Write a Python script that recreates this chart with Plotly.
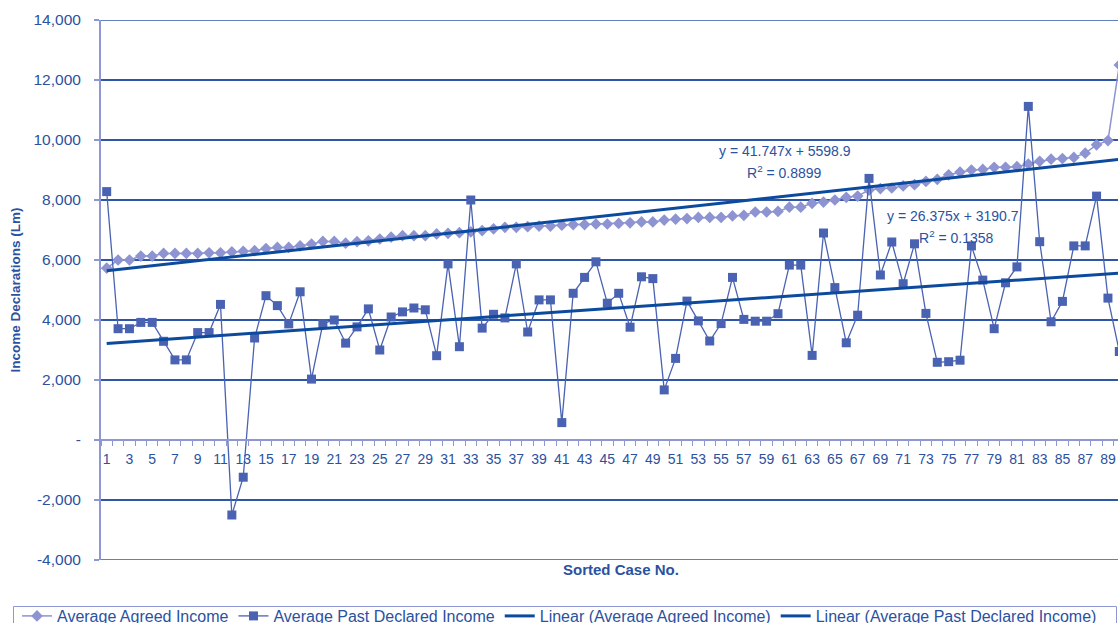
import plotly.graph_objects as go

# Sorted case numbers
case_no = list(range(1, 91))

# Average agreed income per case (Lm)
agreed_income = [
    5730, 6000, 6000, 6130, 6130, 6220, 6220, 6220, 6220, 6240,
    6240, 6270, 6290, 6310, 6380, 6420, 6420, 6470, 6530, 6620,
    6620, 6560, 6610, 6640, 6700, 6760, 6810, 6810, 6810, 6870,
    6890, 6910, 6940, 6980, 7040, 7090, 7090, 7110, 7130, 7130,
    7160, 7180, 7180, 7200, 7200, 7220, 7240, 7270, 7270, 7330,
    7360, 7380, 7420, 7420, 7420, 7470, 7490, 7600, 7600, 7620,
    7760, 7760, 7890, 7930, 8000, 8090, 8130, 8330, 8380, 8400,
    8470, 8510, 8620, 8690, 8840, 8930, 9000, 9020, 9090, 9090,
    9110, 9200, 9290, 9360, 9380, 9420, 9560, 9840, 9980, 12500,
]

# Average past declared income per case (Lm)
declared_income = [
    8280, 3710, 3710, 3920, 3920, 3290, 2670, 2670, 3580, 3580,
    4520, -2500, -1240, 3400, 4810, 4480, 3870, 4940, 2030, 3880,
    4000, 3230, 3770, 4370, 3000, 4100, 4270, 4400, 4340, 2810,
    5870, 3110, 8000, 3730, 4190, 4070, 5870, 3600, 4670, 4670,
    580, 4890, 5420, 5940, 4560, 4890, 3760, 5440, 5380, 1670,
    2720, 4630, 3970, 3300, 3880, 5420, 4020, 3960, 3960, 4210,
    5830, 5830, 2820, 6900, 5080, 3240, 4160, 8720, 5500, 6600,
    5210, 6540, 4220, 2590, 2610, 2660, 6470, 5330, 3710, 5240,
    5770, 11120, 6610, 3940, 4620, 6470, 6470, 8130, 4730, 2950,
]

# Fitted linear trends (slope, intercept, R squared)
agreed_fit = (41.747, 5598.9, 0.8899)
declared_fit = (26.375, 3190.7, 0.1358)

# Axis ticks
x_tick_vals = list(range(1, 90, 2))
y_tick_vals = [-4000, -2000, 0, 2000, 4000, 6000, 8000, 10000, 12000, 14000]
y_tick_text = ["-4,000", "-2,000", "-", "2,000", "4,000", "6,000",
               "8,000", "10,000", "12,000", "14,000"]

TEXT = "#2b51a1"
AXIS = "#8e97d2"
GRID = "#2f55a6"
AGREED = "#8d94d1"
DECLARED = "#4a62b2"
TREND = "#0c4a9e"
FONT = "Liberation Sans, Arial, sans-serif"

agreed_trend = [agreed_fit[0] * x + agreed_fit[1] for x in case_no]
declared_trend = [declared_fit[0] * x + declared_fit[1] for x in case_no]

fig = go.Figure()
fig.add_trace(go.Scatter(
    x=case_no, y=agreed_income, mode="lines+markers",
    name="Average Agreed Income",
    line=dict(color=AGREED, width=1.5),
    marker=dict(symbol="diamond", size=9, color=AGREED),
))
fig.add_trace(go.Scatter(
    x=case_no, y=declared_income, mode="lines+markers",
    name="Average Past Declared Income",
    line=dict(color=DECLARED, width=1.3),
    marker=dict(symbol="square", size=9, color=DECLARED),
))
fig.add_trace(go.Scatter(
    x=case_no, y=agreed_trend, mode="lines",
    name="Linear (Average Agreed Income)",
    line=dict(color=TREND, width=3),
))
fig.add_trace(go.Scatter(
    x=case_no, y=declared_trend, mode="lines",
    name="Linear (Average Past Declared Income)",
    line=dict(color=TREND, width=3),
))

# Plot-area geometry in pixels
plot_l, plot_t, plot_w, plot_h = 101, 20, 1017, 540
x_spacing = 11.378
x_max = 0.5 + plot_w / x_spacing


def px_x(px):
    return (px - plot_l) / plot_w


def px_y(py):
    return (plot_t + plot_h - py) / plot_h


# Horizontal rules at the outer ends of the value axis
for edge in (y_tick_vals[0], y_tick_vals[-1]):
    fig.add_shape(type="line", xref="paper", yref="y", x0=0, x1=1,
                  y0=edge, y1=edge, line=dict(color=GRID, width=1.5),
                  layer="below")

eq_font = dict(family=FONT, size=14, color=TEXT)
fig.add_annotation(x=60.6, y=9640, xref="x", yref="y", showarrow=False,
                   text=f"y = {agreed_fit[0]}x + {agreed_fit[1]}", font=eq_font)
fig.add_annotation(x=60.6, y=8940, xref="x", yref="y", showarrow=False,
                   text=f"R<sup>2</sup> = {agreed_fit[2]:.4f}", font=eq_font)
fig.add_annotation(x=75.4, y=7470, xref="x", yref="y", showarrow=False,
                   text=f"y = {declared_fit[0]}x + {declared_fit[1]}", font=eq_font)
fig.add_annotation(x=75.7, y=6780, xref="x", yref="y", showarrow=False,
                   text=f"R<sup>2</sup> = {declared_fit[2]:.4f}", font=eq_font)

fig.add_annotation(x=px_x(621), y=px_y(580),
                   xref="paper", yref="paper", showarrow=False,
                   text="<b>Sorted Case No.</b>",
                   font=dict(family=FONT, size=15, color=TEXT))

# Frame round the legend
fig.add_shape(type="rect", xref="paper", yref="paper",
              x0=px_x(13.5), x1=px_x(1116.5), y0=px_y(640), y1=px_y(606.5),
              line=dict(color=AXIS, width=1), fillcolor="rgba(0,0,0,0)",
              layer="above")

fig.update_layout(
    width=1118, height=623,
    margin=dict(l=plot_l, r=0, t=plot_t, b=623 - plot_t - plot_h, autoexpand=False),
    paper_bgcolor="white", plot_bgcolor="white",
    font=dict(family=FONT, color=TEXT),
    showlegend=True,
    legend=dict(
        orientation="h", x=px_x(17), y=px_y(599),
        xanchor="left", yanchor="top",
        borderwidth=0, bgcolor="rgba(0,0,0,0)",
        font=dict(family=FONT, size=16, color=TEXT),
        tracegroupgap=0,
    ),
    xaxis=dict(
        range=[0.5, x_max], anchor="free", position=px_y(440),
        tickmode="array", tickvals=x_tick_vals,
        ticks="", showgrid=False, zeroline=False,
        showline=True, linecolor=AXIS, linewidth=1.5,
        tickfont=dict(family=FONT, size=14, color=TEXT),
        ticklabelstandoff=6,
    ),
    # Category boundary tick marks along the case axis
    xaxis2=dict(
        overlaying="x", matches="x", anchor="free", position=px_y(440),
        side="bottom", tickmode="array",
        tickvals=[c - 0.5 for c in case_no],
        ticks="outside", ticklen=5, tickcolor=AXIS, tickwidth=1.2,
        showticklabels=False, showgrid=False, zeroline=False, showline=False,
        layer="above traces",
    ),
    yaxis=dict(
        range=[-4000, 14000],
        tickmode="array", tickvals=y_tick_vals, ticktext=y_tick_text,
        ticks="outside", ticklen=5, tickcolor=AXIS, tickwidth=1.5,
        showgrid=True, gridcolor=GRID, gridwidth=1.5,
        zeroline=True, zerolinecolor=AXIS, zerolinewidth=1.5,
        showline=True, linecolor=AXIS, linewidth=2,
        tickfont=dict(family=FONT, size=15.5, color=TEXT),
        ticklabelstandoff=10,
        title=dict(text="<b>Income Declarations (Lm)</b>", standoff=10,
                   font=dict(family=FONT, size=13.5, color=TEXT)),
    ),
)

# An empty trace keeps the boundary-tick axis drawn
fig.add_trace(go.Scatter(x=[], y=[], xaxis="x2", yaxis="y", showlegend=False,
                         hoverinfo="skip"))

fig.write_html("out.html")
